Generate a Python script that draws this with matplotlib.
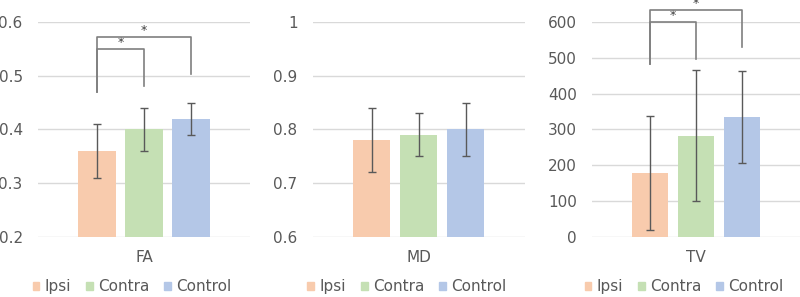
import matplotlib.pyplot as plt

# groups and colours
groups = ['Ipsi', 'Contra', 'Control']
colors = ['#F8CBAD', '#C5E0B4', '#B4C7E7']

# per-panel data
fa_mean = [0.36, 0.40, 0.42]
fa_err = [0.05, 0.04, 0.03]
md_mean = [0.78, 0.79, 0.80]
md_err_lo = [0.06, 0.04, 0.05]
md_err_hi = [0.06, 0.04, 0.05]
tv_mean = [178, 283, 336]
tv_err_lo = [158, 183, 129]
tv_err_hi = [159, 183, 128]

fa_ticks = [0.2, 0.3, 0.4, 0.5, 0.6]
fa_ticklabels = ['0.2', '0.3', '0.4', '0.5', '0.6']
md_ticks = [0.6, 0.7, 0.8, 0.9, 1.0]
md_ticklabels = ['0.6', '0.7', '0.8', '0.9', '1']
tv_ticks = [0, 100, 200, 300, 400, 500, 600]
tv_ticklabels = ['0', '100', '200', '300', '400', '500', '600']

# significance brackets: (left drop, right drop, top) for inner and outer
fa_sig = [(0.47, 0.48, 0.55), (0.47, 0.503, 0.572)]
tv_sig = [(483, 498, 600), (483, 531, 633)]

grey = '#595959'
plt.rcParams['font.family'] = 'DejaVu Sans'

fig = plt.figure(figsize=(8, 2.97), dpi=100)

panels = [
    ('FA', fa_mean, [fa_err, fa_err], fa_ticks, fa_ticklabels, fa_sig, [0.0475, 0.202, 0.265, 0.724]),
    ('MD', md_mean, [md_err_lo, md_err_hi], md_ticks, md_ticklabels, None, [0.391, 0.202, 0.265, 0.724]),
    ('TV', tv_mean, [tv_err_lo, tv_err_hi], tv_ticks, tv_ticklabels, tv_sig, [0.74, 0.202, 0.26, 0.724]),
]

x = [-1, 0, 1]
for name, mean, err, ticks, ticklabels, sig, rect in panels:
    ax = fig.add_axes(rect)
    ax.bar(x, mean, width=0.79, color=colors, zorder=2)
    ax.errorbar(x, mean, yerr=err, fmt='none', ecolor=grey, elinewidth=1,
                capsize=3, capthick=1, zorder=3)
    ax.set_xlim(-2.255, 2.255)
    ax.set_ylim(ticks[0], ticks[-1])
    ax.set_yticks(ticks)
    ax.set_yticklabels(ticklabels)
    ax.set_xticks([0])
    ax.set_xticklabels([name])
    ax.tick_params(axis='both', length=0, labelsize=11, labelcolor=grey)
    ax.tick_params(axis='y', pad=11)
    ax.tick_params(axis='x', pad=9)
    for s in ax.spines.values():
        s.set_visible(False)
    ax.yaxis.grid(True, color='#D9D9D9', linewidth=1, zorder=0)
    ax.set_axisbelow(True)

    if sig:
        for (lo_l, lo_r, top), xr in zip(sig, [0, 1]):
            ax.plot([-1, -1, xr, xr], [lo_l, top, top, lo_r], color='#7F7F7F',
                    linewidth=1.2, clip_on=False, zorder=4)
            span = ticks[-1] - ticks[0]
            ax.text((-1 + xr) / 2, top, '*', ha='center', va='bottom',
                    fontsize=9, color='#404040', clip_on=False)

    handles = [plt.Rectangle((0, 0), 1, 1, color=c) for c in colors]
    cx = rect[0] + rect[2] / 2 - 0.015
    fig.legend(handles, groups, loc='center', bbox_to_anchor=(cx, 0.034),
               ncol=3, frameon=False, fontsize=11, handlelength=0.45,
               handleheight=0.5, handletextpad=0.35, columnspacing=0.95,
               labelcolor=grey)

fig.savefig('out.png', dpi=100)
